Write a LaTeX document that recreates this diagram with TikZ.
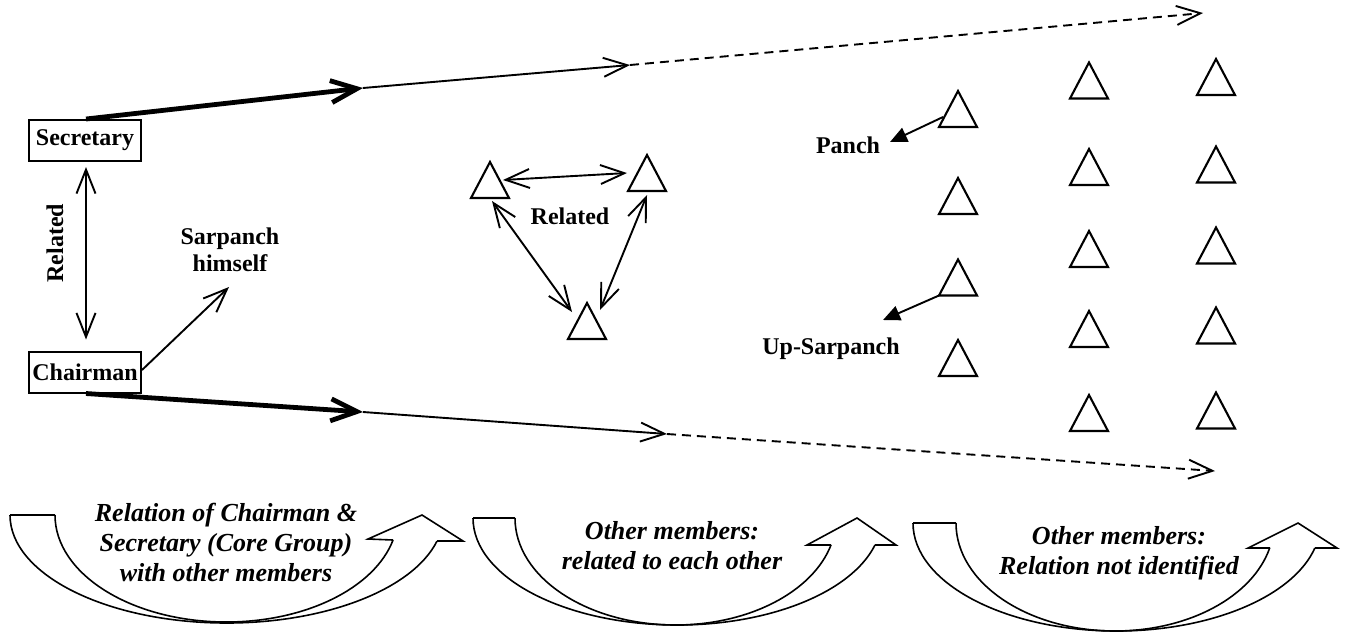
\documentclass[tikz,border=0pt]{standalone}
\usepackage{fontspec}
\setmainfont{Liberation Serif}
\usetikzlibrary{arrows.meta,calc}
\begin{document}
\begin{tikzpicture}[x=1pt,y=-1pt,
  lbl/.style={font=\bfseries\fontsize{24}{27}\selectfont, inner sep=0pt, align=center},
  capt/.style={font=\bfseries\itshape\fontsize{26}{30}\selectfont, inner sep=0pt, align=center},
  box/.style={draw, line width=2pt, minimum width=112pt, minimum height=41pt, inner sep=0pt, font=\bfseries\fontsize{24}{27}\selectfont},
  tri/.style={minimum width=38pt, minimum height=36pt, inner sep=0pt, outer sep=0pt},
  triline/.style={line width=2.1pt, line join=miter},
  thinarr/.style={line width=1.9pt, -{Straight Barb[length=24pt,width=19pt]}},
  dblarr/.style={line width=1.9pt, {Straight Barb[length=24pt,width=19pt]}-{Straight Barb[length=24pt,width=19pt]}},
  thickarr/.style={line width=4.8pt, -{Straight Barb[length=26pt,width=22pt]}},
  dasharr/.style={line width=1.9pt, dash pattern=on 9pt off 6pt, -{Straight Barb[length=24pt,width=19pt]}},
  solidarr/.style={line width=1.9pt, -{Triangle[length=17pt,width=15pt]}},
  curved/.style={line width=1.6pt, line join=miter},
]
\useasboundingbox (0,0) rectangle (1348,633);

% core group boxes
\node[box] (sec) at (85,140.5) {Secretary};
\node[box] (chair) at (85,372) {Chairman};
\node[lbl, rotate=90] (rel1) at (55,243) {Related};
\node[lbl] (sarp) at (230,250) {Sarpanch\\himself};

\draw[dblarr] ([xshift=1pt,yshift=-5pt]sec.south) -- ([xshift=1pt,yshift=11pt]chair.north);
\coordinate (sarpT) at (229,287);
\draw[thinarr] ([yshift=2pt]chair.east) -- (sarpT);

% top flow
\coordinate (t1) at (363,88);
\coordinate (t2) at (630,65);
\coordinate (t3) at (1203,13);
\draw[thickarr] ([xshift=1pt]sec.north) -- (t1);
\draw[thinarr] (t1) -- (t2);
\draw[dasharr] (t2) -- (t3);

% bottom flow
\coordinate (b1) at (363,412);
\coordinate (b2) at (667,434);
\coordinate (b3) at (1215,471);
\draw[thickarr] ([xshift=1pt]chair.south) -- (b1);
\draw[thinarr] (b1) -- (b2);
\draw[dasharr] (b2) -- (b3);

% related members
\node[tri] (m1) at (490,180) {};
\node[tri] (m2) at (647,173) {};
\node[tri] (m3) at (587,321) {};
\node[lbl] (rel2) at (570,216) {Related};
\draw[dblarr] ($(m1)+(13,0)$) -- ($(m2)+(-20,0)$);
\draw[dblarr] ($(m1)+(2,21)$) -- ($(m3)+(-15,-9)$);
\draw[dblarr] ($(m2)+(0,22)$) -- ($(m3)+(13,-11)$);

% office bearers column
\node[tri] (r1) at (958,109) {};
\node[tri] (r2) at (958,196) {};
\node[tri] (r3) at (958,277.5) {};
\node[tri] (r4) at (958,358) {};
\node[lbl] (panch) at (848,145) {Panch};
\node[lbl] (upsar) at (831,349) {Up-Sarpanch};
\coordinate (panchT) at (890,142);
\coordinate (upsarT) at (883,320);
\draw[solidarr] ($(r1)+(-15,8)$) -- (panchT);
\draw[solidarr] (r3.south west) -- (upsarT);

% not identified members
\node[tri] (g1) at (1089,80.5) {};
\node[tri] (g2) at (1089,167) {};
\node[tri] (g3) at (1089,249) {};
\node[tri] (g4) at (1089,329) {};
\node[tri] (g5) at (1089,413) {};
\node[tri] (h1) at (1216,77) {};
\node[tri] (h2) at (1216,164.5) {};
\node[tri] (h3) at (1216,245.5) {};
\node[tri] (h4) at (1216,325.5) {};
\node[tri] (h5) at (1216,410.5) {};

\foreach \n in {m1,m2,m3,r1,r2,r3,r4,g1,g2,g3,g4,g5,h1,h2,h3,h4,h5}
  \draw[triline] (\n.south west) -- (\n.north) -- (\n.south east) -- cycle;

% curved arrows
% left
\draw[curved] (10,515) -- (55,515);
\draw[curved] (55,515) arc[start angle=180, end angle=346.5, x radius=171.4pt, y radius=107pt];
\draw[curved] (10,515) arc[start angle=180, end angle=346, x radius=216.7pt, y radius=108pt];
\draw[curved] (393,540) -- (368,539) -- (422,515) -- (463,541) -- (437,541);
\node[capt] (cap1) at (226,542) {Relation of Chairman \&\\Secretary (Core Group)\\with other members};

% middle
\draw[curved] (473,518) -- (515,518);
\draw[curved] (515,518) arc[start angle=180, end angle=345.4, x radius=160.6pt, y radius=107pt];
\draw[curved] (473,518) arc[start angle=180, end angle=345.4, x radius=204.3pt, y radius=107pt];
\draw[curved] (831,545) -- (807,545) -- (857,518) -- (896,545) -- (875,545);
\node[capt] (cap2) at (672,546) {Other members:\\related to each other};

% right
\draw[curved] (913,523) -- (956,523);
\draw[curved] (956,523) arc[start angle=180, end angle=346.6, x radius=159pt, y radius=108pt];
\draw[curved] (913,523) arc[start angle=180, end angle=346.6, x radius=203.7pt, y radius=108pt];
\draw[curved] (1270,548) -- (1248,548) -- (1298,523) -- (1337,548) -- (1315,548);
\node[capt] (cap3) at (1119,553) {Other members:\\Relation not identified};
\end{tikzpicture}
\end{document}
